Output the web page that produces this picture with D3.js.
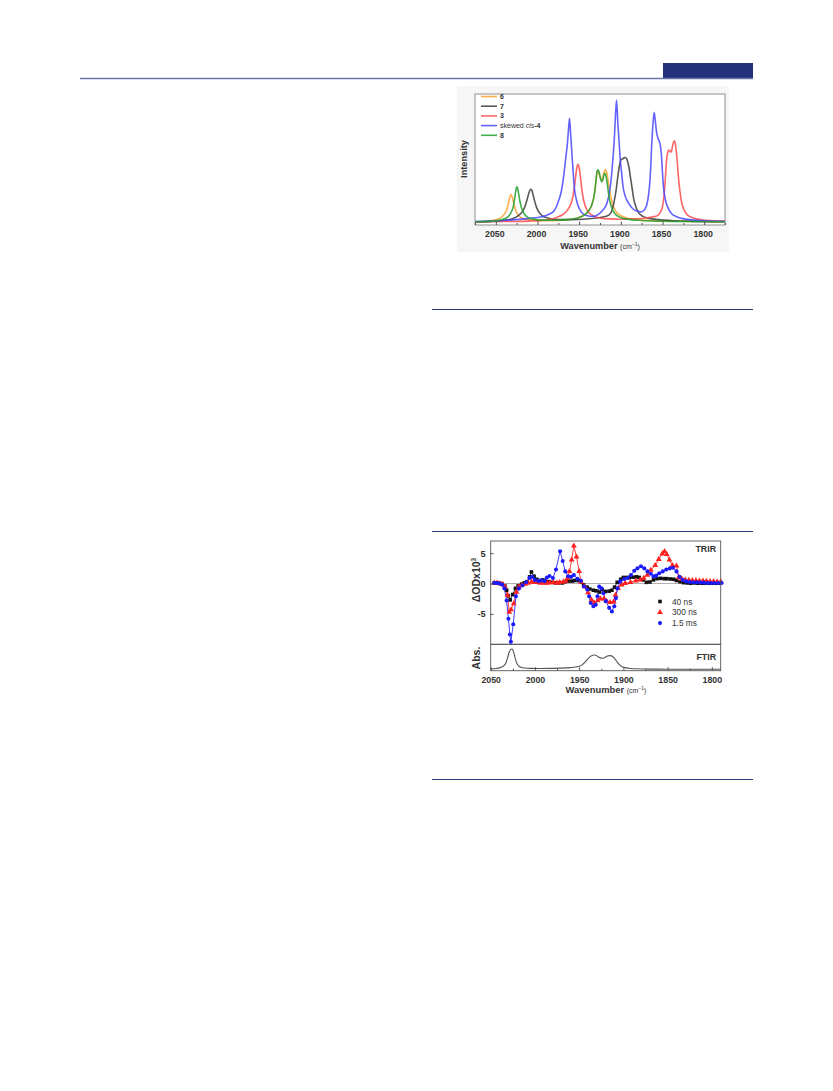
<!DOCTYPE html>
<html><head><meta charset="utf-8">
<script src="https://cdn.jsdelivr.net/npm/d3@7"></script>
<style>
body{margin:0;background:#fff;}
svg{display:block;font-family:"Liberation Sans",Arial,sans-serif;}
</style>
</head><body>
<svg id="c" width="833" height="1091"></svg>
<script>
// ---------------- DATA ----------------
// Top chart: calculated IR spectra, [wavenumber, intensity]
const topTicks = [2050, 2000, 1950, 1900, 1850, 1800];
const topMinorTicks = [2075, 2050, 2025, 2000, 1975, 1950, 1925, 1900, 1875, 1850, 1825, 1800, 1775];
const legendNames = ["6", "7", "3", "skewed cis-4", "8"];
const legendColors = ["#ffa030", "#3c3c3c", "#ff4a4a", "#4646ff", "#22a030"];

const spec6 = [[2075,0.004],[2060,0.01],[2052,0.018],[2046,0.03],[2042,0.05],[2039,0.075],[2037,0.1],[2035,0.15],[2033.5,0.2],[2032,0.226],[2030.5,0.21],[2029,0.17],[2027,0.115],[2025,0.08],[2022,0.05],[2018,0.033],[2010,0.02],[1995,0.014],[1975,0.016],[1960,0.024],[1950,0.04],[1943,0.065],[1938,0.1],[1934,0.16],[1931,0.26],[1929.5,0.36],[1928,0.42],[1926.5,0.405],[1925,0.37],[1923.5,0.35],[1922,0.365],[1920,0.41],[1918.5,0.43],[1917,0.41],[1915,0.33],[1913,0.24],[1910,0.15],[1906,0.09],[1901,0.058],[1893,0.035],[1880,0.022],[1860,0.014],[1830,0.009],[1800,0.006],[1775,0.005]];
const spec7 = [[2075,0.004],[2055,0.008],[2040,0.016],[2030,0.03],[2023,0.055],[2018,0.09],[2015,0.13],[2012.5,0.185],[2010.5,0.235],[2008.5,0.27],[2007,0.265],[2005.5,0.23],[2003.5,0.175],[2001,0.12],[1998,0.08],[1994,0.053],[1987,0.034],[1975,0.022],[1960,0.022],[1945,0.025],[1930,0.035],[1920,0.045],[1914,0.06],[1910,0.11],[1907.5,0.19],[1905.5,0.27],[1903.5,0.38],[1901.5,0.47],[1899.5,0.515],[1897.5,0.52],[1895.5,0.53],[1893.5,0.525],[1892,0.5],[1890,0.44],[1888.5,0.37],[1886.5,0.28],[1884.5,0.19],[1882,0.13],[1879.5,0.087],[1874,0.05],[1866,0.032],[1855,0.022],[1840,0.015],[1820,0.01],[1775,0.005]];
const spec3 = [[2075,0.003],[2040,0.006],[2010,0.01],[1995,0.016],[1985,0.025],[1977,0.04],[1970,0.062],[1964,0.1],[1960,0.15],[1957.5,0.21],[1955.5,0.3],[1953.8,0.4],[1952.5,0.455],[1951.6,0.474],[1950.5,0.46],[1949,0.4],[1947.5,0.31],[1945.5,0.21],[1943,0.14],[1939.5,0.09],[1935,0.06],[1928,0.04],[1915,0.028],[1900,0.025],[1885,0.028],[1870,0.035],[1862,0.045],[1858,0.05],[1855,0.06],[1852,0.09],[1850,0.13],[1849,0.17],[1847.5,0.27],[1846,0.42],[1845,0.52],[1843.5,0.575],[1842.3,0.59],[1840.8,0.58],[1839.6,0.575],[1838,0.62],[1836.5,0.66],[1835.5,0.665],[1834.5,0.64],[1833,0.55],[1831,0.38],[1829,0.25],[1827,0.16],[1824,0.1],[1820,0.06],[1813,0.035],[1803,0.02],[1790,0.013],[1775,0.01]];
const specCis4 = [[2075,0.006],[2050,0.012],[2030,0.02],[2010,0.032],[1995,0.045],[1985,0.07],[1980,0.095],[1977.5,0.125],[1974.5,0.18],[1971.5,0.25],[1969.5,0.33],[1967.5,0.44],[1965.5,0.56],[1964.3,0.63],[1963,0.74],[1961.6,0.85],[1960.3,0.73],[1958.8,0.575],[1957.3,0.42],[1955.6,0.27],[1953.5,0.19],[1951.5,0.14],[1948.5,0.095],[1945.5,0.07],[1941,0.055],[1937,0.05],[1932,0.05],[1927,0.065],[1921.5,0.1],[1917,0.15],[1913.5,0.25],[1911.5,0.36],[1909.5,0.52],[1908,0.66],[1906.8,0.82],[1905.2,1.0],[1903.5,0.8],[1902,0.65],[1900.8,0.52],[1899,0.4],[1897.5,0.3],[1894.5,0.21],[1891.5,0.166],[1887.5,0.125],[1883.5,0.1],[1879.5,0.09],[1875.5,0.085],[1872,0.1],[1869,0.14],[1867,0.21],[1865.2,0.33],[1864,0.47],[1863,0.63],[1861.5,0.8],[1860,0.9],[1858.5,0.82],[1857.2,0.74],[1855,0.68],[1853.2,0.65],[1852,0.6],[1851,0.52],[1850,0.4],[1849,0.3],[1847,0.2],[1845.2,0.15],[1842,0.1],[1839,0.07],[1833,0.045],[1827,0.032],[1815,0.02],[1800,0.013],[1775,0.008]];
const spec8 = [[2075,0.004],[2055,0.01],[2045,0.018],[2038,0.033],[2034,0.055],[2031,0.09],[2029,0.13],[2027.5,0.19],[2026,0.26],[2025,0.29],[2023.8,0.275],[2022.5,0.23],[2021,0.17],[2019,0.115],[2016,0.07],[2012,0.042],[2005,0.026],[1995,0.018],[1980,0.017],[1965,0.022],[1952,0.035],[1944,0.058],[1939,0.09],[1935,0.14],[1932,0.22],[1930,0.33],[1928.5,0.42],[1927.5,0.43],[1926,0.41],[1924.5,0.36],[1923,0.33],[1921.5,0.35],[1920,0.39],[1919,0.40],[1917.5,0.37],[1916,0.3],[1914,0.2],[1911,0.12],[1907,0.07],[1901,0.042],[1892,0.026],[1875,0.015],[1850,0.009],[1820,0.006],[1775,0.004]];

// Bottom chart: TRIR difference spectra (ΔOD x10^3), [wavenumber, value]
const botTicks = [2050, 2000, 1950, 1900, 1850, 1800];
const botMinorTicks = [2025, 1975, 1925, 1875, 1825];
const trirYTicks = [5, 0, -5];
const trirNames = ["40 ns", "300 ns", "1.5 ms"];
const trirColors = ["#111111", "#ff2020", "#1a1aff"];

const trir40ns = [[2046,0.1],[2043,0.1],[2040,0.05],[2037,-0.1],[2034,-0.4],[2032,-1.1],[2030,-2.0],[2028,-2.7],[2025,-1.8],[2022,-0.8],[2019,-0.4],[2015,-0.1],[2012,0.1],[2009,0.3],[2006,1.1],[2004,1.9],[2001,1.2],[1998,0.7],[1995,0.5],[1991,0.6],[1988,0.4],[1984,0.3],[1981,0.2],[1977,0.1],[1973,0.1],[1969,0.1],[1966,0.3],[1962,0.4],[1958,0.4],[1955,0.5],[1951,0.5],[1948,0.3],[1945,-0.2],[1941,-0.6],[1938,-0.9],[1934,-1.1],[1931,-1.2],[1927,-1.4],[1924,-1.0],[1920,-1.3],[1916,-1.25],[1913,-1.1],[1910,-0.6],[1907,0.2],[1903,0.7],[1900,1.0],[1896,1.0],[1893,1.0],[1889,1.05],[1885,1.1],[1882,1.0],[1878,0.6],[1874,0.2],[1870,0.25],[1866,0.6],[1862,0.8],[1858,0.85],[1854,0.8],[1851,0.8],[1847,0.75],[1843,0.7],[1840,0.5],[1836,0.3],[1832,0.15],[1828,0.1],[1824,0.05],[1820,0.1],[1816,0.05],[1812,0.05],[1808,0.05],[1804,0.05],[1800,0.05],[1796,0.05],[1792,0.05]];
const trir300ns = [[2046,0.1],[2043,0.1],[2040,0.0],[2037,-0.1],[2034,-0.5],[2031,-1.9],[2029,-4.7],[2027,-4.3],[2024,-3.3],[2021,-1.4],[2018,-0.5],[2015,-0.3],[2011,-0.1],[2008,0.1],[2004,0.3],[2001,0.2],[1997,0.2],[1994,0.1],[1990,0.1],[1986,0.1],[1983,0.15],[1979,0.2],[1975,0.1],[1972,0.2],[1968,0.3],[1965,0.4],[1963,0.9],[1961,2.0],[1958.5,3.9],[1956,6.2],[1953,4.4],[1950,2.0],[1948,0.3],[1944,-0.5],[1940,-1.5],[1936,-2.7],[1933,-3.2],[1929,-2.8],[1926,-2.5],[1922,-2.5],[1919,-2.9],[1915,-3.1],[1911,-3.0],[1909,-1.9],[1906,-0.8],[1902,-0.2],[1898,0.05],[1892,0.2],[1886,0.45],[1881,0.6],[1877,0.9],[1873,1.4],[1869,2.2],[1864,3.0],[1860,4.0],[1856,4.9],[1853.5,5.3],[1851,4.8],[1848,3.9],[1844.5,3.0],[1840,2.9],[1837.5,1.0],[1834,0.75],[1830,0.6],[1826,0.55],[1822,0.5],[1818,0.5],[1814,0.45],[1810,0.45],[1806,0.4],[1802,0.35],[1798,0.35],[1794,0.3],[1790,0.3]];
const trir1p5ms = [[2046,0.1],[2043,0.1],[2040,0.0],[2037,-0.2],[2034.5,-0.8],[2032,-2.8],[2030,-5.8],[2028.3,-8.4],[2027.2,-9.6],[2024.5,-6.7],[2021.5,-2.1],[2018,-0.8],[2014,-0.3],[2010,0.2],[2006.2,0.9],[2003,1.1],[2000,0.6],[1996,0.4],[1993,0.5],[1989,0.4],[1986.5,1.0],[1983.5,1.25],[1979.7,0.9],[1976.2,2.3],[1971.6,5.3],[1968.6,3.7],[1965.7,2.0],[1962.5,1.2],[1959,1.1],[1956,1.4],[1952,0.8],[1948,0.45],[1944.5,-0.5],[1940.8,-1.0],[1938.8,-2.1],[1936.9,-3.2],[1933.9,-3.75],[1931.2,-3.5],[1929.3,-2.1],[1927.4,-0.5],[1924.8,-0.8],[1922.6,-1.6],[1919.9,-2.9],[1916.1,-4.0],[1913,-4.6],[1910.3,-3.75],[1908.4,-2.4],[1906.7,-0.8],[1903.6,0.35],[1899,0.75],[1895,0.9],[1891.5,1.4],[1887.7,2.1],[1884.1,2.5],[1880.2,2.85],[1876.4,2.5],[1872.8,2.0],[1869,1.6],[1866,1.2],[1863,1.3],[1859.5,1.7],[1855.5,2.0],[1851.5,2.3],[1847.5,2.5],[1844,2.6],[1840,2.0],[1836.5,1.1],[1833,0.6],[1829,0.35],[1825,0.25],[1821,0.2],[1817,0.2],[1813,0.15],[1809,0.15],[1805,0.1],[1801,0.1],[1797,0.1],[1793,0.1],[1789,0.1]];

// FTIR absorbance (normalised)
const ftir = [[2050,0.02],[2044,0.04],[2040,0.07],[2037.5,0.11],[2035,0.18],[2033,0.3],[2031,0.55],[2029,0.85],[2027.5,0.98],[2026.3,1.0],[2025,0.95],[2023.5,0.75],[2022,0.5],[2020.5,0.3],[2018.5,0.17],[2016,0.1],[2012,0.06],[2005,0.045],[1995,0.04],[1980,0.045],[1970,0.055],[1960,0.08],[1954,0.11],[1950,0.15],[1946,0.24],[1943,0.37],[1940,0.52],[1937,0.64],[1934.5,0.69],[1932.5,0.70],[1930,0.66],[1927,0.58],[1924,0.54],[1921,0.58],[1918,0.65],[1915.5,0.67],[1913.5,0.66],[1911,0.58],[1908,0.42],[1905,0.25],[1902,0.14],[1898,0.08],[1892,0.04],[1885,0.025],[1870,0.01],[1850,0.005],[1820,0.0],[1790,0.0]];

// ---------------- DRAW ----------------
const svg = d3.select("#c");

// page decorations
svg.append("rect").attr("x",663).attr("y",63).attr("width",90).attr("height",15).attr("fill","#22317b");
svg.append("line").attr("x1",80).attr("x2",753).attr("y1",78.5).attr("y2",78.5).attr("stroke","#6a74ac").attr("stroke-width",1.6);
[309.5, 531.5, 779.5].forEach(y=>{
  svg.append("line").attr("x1",432).attr("x2",753).attr("y1",y).attr("y2",y).attr("stroke","#2c3775").attr("stroke-width",1);
});

// ===== TOP CHART =====
const gT = svg.append("g");
gT.append("rect").attr("x",457).attr("y",86).attr("width",272).attr("height",166).attr("fill","#f6f6f6");
const xT = d3.scaleLinear().domain([2075,1775]).range([475,725]);
const yT = d3.scaleLinear().domain([-0.022,1.049]).range([225,94]);
gT.append("rect").attr("x",475).attr("y",94).attr("width",250).attr("height",131).attr("fill","#fff");

const lineT = d3.line().x(d=>xT(d[0])).y(d=>yT(d[1])).curve(d3.curveMonotoneX);
const topSeries = [spec6, spec7, spec3, specCis4, spec8];
svg.append("clipPath").attr("id","clipT").append("rect").attr("x",475).attr("y",94).attr("width",250).attr("height",131);
topSeries.forEach((s,i)=>{
  gT.append("path").attr("d",lineT(s)).attr("fill","none").attr("stroke",legendColors[i])
    .attr("stroke-width",1.6).attr("stroke-opacity",0.85).attr("stroke-linejoin","round").attr("clip-path","url(#clipT)");
});
gT.append("rect").attr("x",475).attr("y",94).attr("width",250).attr("height",131).attr("fill","none").attr("stroke","#777").attr("stroke-width",0.8);

// axis
const axT = d3.axisBottom(xT).tickValues(topTicks).tickSizeInner(-3.5).tickSizeOuter(0).tickPadding(6).tickFormat(d3.format("d"));
const gAxT = gT.append("g").attr("transform","translate(0,225)").call(axT);
gAxT.select(".domain").remove();
gAxT.selectAll("line").attr("stroke","#555");
gAxT.selectAll("text").attr("font-size","8.8px").attr("font-weight","bold").attr("fill","#333").attr("dx",-1.5);
const axTm = d3.axisBottom(xT).tickValues(topMinorTicks.filter(d=>!topTicks.includes(d))).tickSizeInner(-2).tickSizeOuter(0).tickFormat("");
const gAxTm = gT.append("g").attr("transform","translate(0,225)").call(axTm);
gAxTm.select(".domain").remove();
gAxTm.selectAll("line").attr("stroke","#555");

const wT = gT.append("text").attr("x",600).attr("y",248.5).attr("text-anchor","middle").attr("fill","#333");
wT.append("tspan").attr("font-size","9.2px").attr("font-weight","bold").text("Wavenumber ");
wT.append("tspan").attr("font-size","7px").text("(cm");
wT.append("tspan").attr("font-size","5px").attr("dy",-3).text("−1");
wT.append("tspan").attr("font-size","7px").attr("dy",3).text(")");

gT.append("text").attr("transform","translate(467,159) rotate(-90)").attr("text-anchor","middle")
  .attr("font-size","9.2px").attr("font-weight","bold").attr("fill","#333").text("Intensity");

// legend
legendNames.forEach((n,i)=>{
  const y = 96.5 + i*9.7;
  gT.append("line").attr("x1",481).attr("x2",497).attr("y1",y).attr("y2",y).attr("stroke",legendColors[i]).attr("stroke-width",1.6).attr("stroke-opacity",0.85);
  const t = gT.append("text").attr("x",500).attr("y",y+2.5).attr("font-size","7px").attr("fill","#333");
  if (n === "skewed cis-4") {
    t.append("tspan").text("skewed ");
    t.append("tspan").attr("font-style","italic").text("cis");
    t.append("tspan").attr("font-weight","bold").text("-4");
  } else {
    t.attr("font-weight","bold").text(n);
  }
});

// ===== BOTTOM CHART =====
const gB = svg.append("g");
const xB = d3.scaleLinear().domain([2050,1790]).range([490.7,720.7]);
const yB = d3.scaleLinear().domain([-10,7]).range([644.3,541]);
const yF = d3.scaleLinear().domain([-0.07,1.23]).range([670.7,644.3]);

svg.append("clipPath").attr("id","clipB").append("rect").attr("x",490.7).attr("y",541).attr("width",230).attr("height",103.3);

// zero line
gB.append("line").attr("x1",490.7).attr("x2",720.7).attr("y1",yB(0)).attr("y2",yB(0)).attr("stroke","#999").attr("stroke-width",0.8);

const lineB = d3.line().x(d=>xB(d[0])).y(d=>yB(d[1]));
const trirSeries = [trir40ns, trir300ns, trir1p5ms];
trirSeries.forEach((s,i)=>{
  gB.append("path").attr("d",lineB(s)).attr("fill","none").attr("stroke",trirColors[i]).attr("stroke-width",1).attr("stroke-opacity",0.85).attr("clip-path","url(#clipB)");
});
const sym = [d3.symbolSquare, d3.symbolTriangle, d3.symbolCircle];
const symSize = [13, 15, 13];
trirSeries.forEach((s,i)=>{
  gB.append("g").selectAll("path").data(s).join("path")
    .attr("transform",d=>`translate(${xB(d[0])},${yB(d[1])})`)
    .attr("d",d3.symbol().type(sym[i]).size(symSize[i]))
    .attr("fill",trirColors[i]);
});

// frames
gB.append("rect").attr("x",490.7).attr("y",541).attr("width",230).attr("height",103.3).attr("fill","none").attr("stroke","#555").attr("stroke-width",0.9);
gB.append("rect").attr("x",490.7).attr("y",644.3).attr("width",230).attr("height",26.4).attr("fill","none").attr("stroke","#555").attr("stroke-width",0.9);

// FTIR
const lineF = d3.line().x(d=>xB(d[0])).y(d=>yF(d[1])).curve(d3.curveMonotoneX);
gB.append("path").attr("d",lineF(ftir)).attr("fill","none").attr("stroke","#555").attr("stroke-width",1.1);

// y axis TRIR
const axY = d3.axisLeft(yB).tickValues(trirYTicks).tickSizeInner(-3).tickSizeOuter(0).tickPadding(5).tickFormat(d=>d);
const gAxY = gB.append("g").attr("transform","translate(490.7,0)").call(axY);
gAxY.select(".domain").remove();
gAxY.selectAll("line").attr("stroke","#555");
gAxY.selectAll("text").attr("font-size","9.2px").attr("font-weight","bold").attr("fill","#333");

// x axis
const axB = d3.axisBottom(xB).tickValues(botTicks).tickSizeInner(-3.5).tickSizeOuter(0).tickPadding(6).tickFormat(d3.format("d"));
const gAxB = gB.append("g").attr("transform","translate(0,670.7)").call(axB);
gAxB.select(".domain").remove();
gAxB.selectAll("line").attr("stroke","#555");
gAxB.selectAll("text").attr("font-size","8.8px").attr("font-weight","bold").attr("fill","#333");
const axBm = d3.axisBottom(xB).tickValues(botMinorTicks).tickSizeInner(-2).tickSizeOuter(0).tickFormat("");
const gAxBm = gB.append("g").attr("transform","translate(0,670.7)").call(axBm);
gAxBm.select(".domain").remove();
gAxBm.selectAll("line").attr("stroke","#555");

const wB = gB.append("text").attr("x",606).attr("y",692.5).attr("text-anchor","middle").attr("fill","#333");
wB.append("tspan").attr("font-size","9.4px").attr("font-weight","bold").text("Wavenumber ");
wB.append("tspan").attr("font-size","7px").text("(cm");
wB.append("tspan").attr("font-size","5px").attr("dy",-3).text("−1");
wB.append("tspan").attr("font-size","7px").attr("dy",3).text(")");

const yl = gB.append("text").attr("transform","translate(480,580) rotate(-90)").attr("text-anchor","middle")
  .attr("font-size","10.5px").attr("font-weight","bold").attr("fill","#333");
yl.append("tspan").text("ΔODx10");
yl.append("tspan").attr("font-size","6.5px").attr("dy",-4).text("3");

gB.append("text").attr("transform","translate(480,658) rotate(-90)").attr("text-anchor","middle")
  .attr("font-size","10.5px").attr("font-weight","bold").attr("fill","#333").text("Abs.");

gB.append("text").attr("x",716).attr("y",552).attr("text-anchor","end").attr("font-size","8.8px").attr("font-weight","bold").attr("fill","#333").text("TRIR");
gB.append("text").attr("x",716).attr("y",660).attr("text-anchor","end").attr("font-size","8.8px").attr("font-weight","bold").attr("fill","#333").text("FTIR");

// TRIR legend
trirNames.forEach((n,i)=>{
  const y = 601.5 + i*10.8;
  gB.append("path").attr("transform",`translate(660,${y})`).attr("d",d3.symbol().type(sym[i]).size(symSize[i])).attr("fill",trirColors[i]);
  gB.append("text").attr("x",672).attr("y",y+3).attr("font-size","8.3px").attr("fill","#333").text(n);
});
</script>
</body></html>
